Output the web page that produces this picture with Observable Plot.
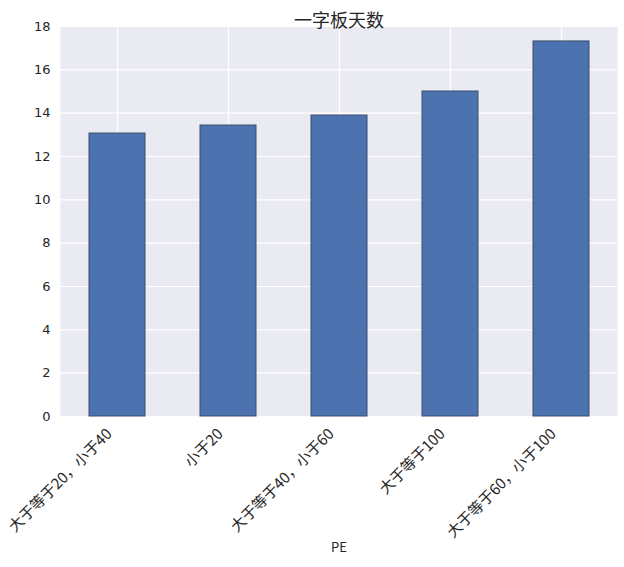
<!DOCTYPE html>
<html>
<head>
<meta charset="utf-8">
<script src="https://cdn.jsdelivr.net/npm/d3@7"></script>
<script src="https://cdn.jsdelivr.net/npm/@observablehq/plot@0.6"></script>
<style>
  html, body { margin: 0; padding: 0; background: #ffffff; }
  #chart { width: 624px; height: 567px; }
</style>
</head>
<body>
<div id="chart"></div>
<script>
const categories = ["大于等于20，小于40", "小于20", "大于等于40，小于60", "大于等于100", "大于等于60，小于100"];
const values = [13.06, 13.43, 13.89, 15.0, 17.31];
const yTicks = [0, 2, 4, 6, 8, 10, 12, 14, 16, 18];
const title = "一字板天数";
const xLabel = "PE";

const data = categories.map((c, i) => ({category: c, value: values[i]}));

const cjk = "'Noto Sans CJK SC', 'DejaVu Sans', sans-serif";

const chart = Plot.plot({
  width: 624,
  height: 567,
  marginTop: 26,
  marginBottom: 151,
  marginLeft: 60,
  marginRight: 7,
  style: {background: "#ffffff", color: "#262626", fontFamily: "'DejaVu Sans', sans-serif"},
  x: {domain: categories, paddingInner: 0.5, paddingOuter: 0.25, label: null},
  y: {domain: [0, 18], label: null},
  marks: [
    Plot.frame({fill: "#EAEAF2", stroke: null}),
    Plot.gridY(yTicks, {stroke: "#ffffff", strokeOpacity: 1, strokeWidth: 1.2}),
    Plot.gridX({stroke: "#ffffff", strokeOpacity: 1, strokeWidth: 1.2}),
    Plot.barY(data, {x: "category", y: "value", fill: "#4C72B0", stroke: "#3b4d6e", strokeWidth: 1}),
    Plot.axisY(yTicks, {tickSize: 0, tickPadding: 10, fontSize: 13, fill: "#262626", label: null}),
    Plot.axisX({tickSize: 0, tickRotate: -45, tickPadding: 3, dx: -8, dy: 12, fontSize: 15, fontFamily: cjk, fill: "#262626", label: null}),
    Plot.text([title], {text: d => d, frameAnchor: "top", dy: -12, fontSize: 18, fontFamily: cjk, fill: "#262626"}),
    Plot.text([xLabel], {text: d => d, frameAnchor: "bottom", dy: 135, fontSize: 13, fontFamily: cjk, fill: "#262626"})
  ]
});
document.getElementById("chart").appendChild(chart);
</script>
</body>
</html>
